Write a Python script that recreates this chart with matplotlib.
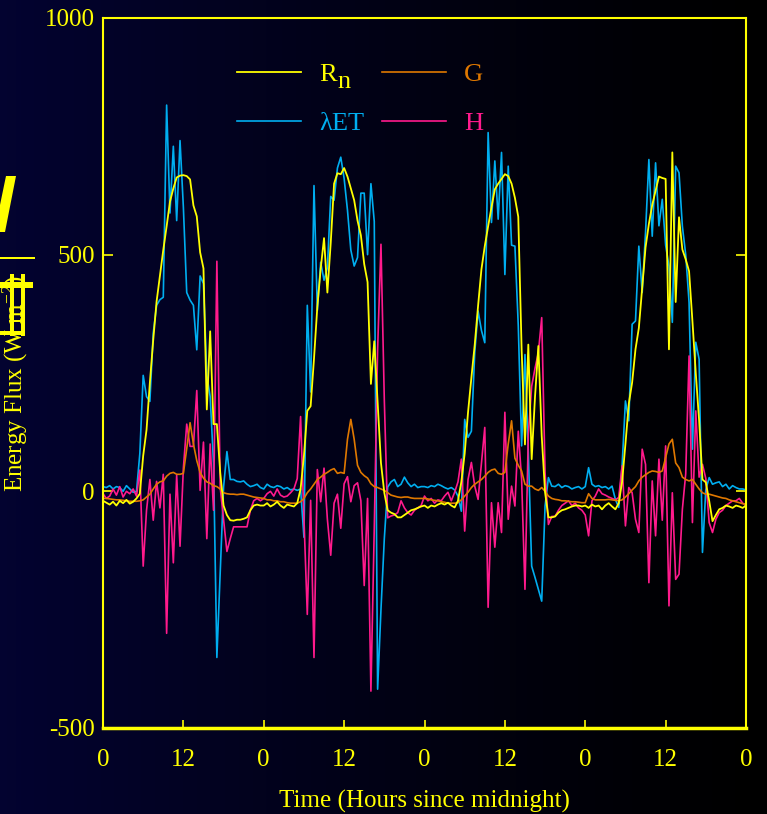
import numpy as np
import matplotlib
matplotlib.use('Agg')
import matplotlib.pyplot as plt
from matplotlib.patches import Polygon, Rectangle

plt.rcParams['font.family'] = 'Liberation Serif'
plt.rcParams['mathtext.fontset'] = 'custom'
plt.rcParams['mathtext.rm'] = 'Liberation Serif'
plt.rcParams['mathtext.it'] = 'Liberation Serif:italic'
plt.rcParams['axes.unicode_minus'] = False

# half-hourly samples over four days
hours = np.arange(0, 96.5, 0.5)

rn = [-20, -24, -28, -22, -30, -20, -25, -18, -26, -22, -15, -5,
      75, 130, 230, 320, 401, 455, 510, 560, 612, 640, 663, 667,
      668, 666, 659, 604, 581, 505, 471, 173, 338, 142, 142, 40,
      -30, -50, -61, -62, -60, -60, -58, -55, -40, -30, -28, -30,
      -30, -25, -32, -28, -22, -30, -35, -28, -30, -32, -25, 5,
      75, 170, 180, 280, 390, 470, 535, 420, 525, 650, 672, 670,
      683, 665, 640, 615, 572, 541, 480, 442, 227, 317, 190, 60,
      -3, -40, -45, -48, -55, -55, -50, -45, -40, -38, -35, -32,
      -30, -35, -30, -32, -28, -25, -28, -24, -30, -34, -20, 20,
      80, 167, 240, 310, 392, 469, 518, 560, 600, 638, 650, 660,
      670, 666, 650, 620, 580, 300, 99, 310, 68, 200, 307, 117,
      -2, -55, -55, -53, -45, -40, -38, -35, -32, -30, -30, -32,
      -30, -35, -28, -32, -30, -38, -30, -25, -32, -38, -25, 20,
      100, 185, 230, 300, 345, 430, 515, 565, 605, 635, 665, 662,
      660, 300, 716, 400, 579, 511, 490, 465, 360, 250, 150, 25,
      19, -20, -63, -50, -38, -35, -30, -32, -35, -30, -32, -35,
      -30]

let_flux = [10, 8, 12, 5, 10, 8, 0, 12, 5, -2, 0, 80,
            245, 200, 190, 334, 393, 405, 410, 816, 588, 729, 572, 741,
            600, 420, 404, 393, 299, 455, 439, 245, 200, 60, -351, -170,
            9, 84, 25, 25, 21, 20, 22, 15, 10, 12, 15, 8,
            5, 15, 10, 8, 12, 10, 5, 8, 3, 5, 2, 5,
            -97, 393, 210, 646, 382, 484, 446, 472, 623, 615, 683, 706,
            661, 594, 510, 476, 494, 630, 630, 500, 650, 570, -418, -250,
            -100, 9, 20, 25, 10, 15, 30, 18, 10, 15, 8, 10,
            10, 8, 12, 10, 15, 12, 8, 5, 8, 3, -10, -42,
            152, 114, 127, 293, 381, 340, 314, 758, 568, 698, 575, 716,
            458, 687, 520, 518, 350, 96, 289, 82, -158, -182, -207, -232,
            -31, 29, 11, 10, 15, 8, 12, 10, 5, 8, 10, 5,
            10, 50, 15, 10, 12, 8, 10, 5, 11, -17, -34, 54,
            191, 149, 353, 360, 518, 420, 547, 701, 539, 694, 561, 617,
            520, 476, 357, 687, 673, 560, 500, 399, 89, 315, 279, -129,
            4, 29, 15, 18, 20, 10, 15, 5, 12, 8, 5, 5,
            3]

g_flux = [-15, -15, -16, -17, -18, -18, -19, -20, -21, -21, -21, -20,
          -18, -12, -6, 5, 15, 20, 22, 32, 38, 40, 36, 36,
          38, 90, 145, 100, 65, 40, 28, 20, 17, 12, 10, 5,
          -3, -5, -6, -6, -7, -6, -6, -8, -10, -12, -13, -14,
          -15, -18, -18, -20, -20, -22, -22, -24, -25, -25, -25, -22,
          -15, -3, 5, 15, 25, 30, 36, 40, 45, 48, 38, 40,
          38, 110, 152, 110, 55, 40, 33, 28, 16, 10, 8, 5,
          2, -3, -8, -10, -12, -13, -12, -12, -14, -15, -15, -15,
          -15, -16, -18, -19, -20, -22, -23, -25, -25, -25, -24, -18,
          -10, -2, 8, 15, 20, 25, 32, 40, 45, 47, 38, 36,
          40, 100, 149, 70, 55, 43, 15, 11, 11, 5, 2, 8,
          0, -10, -15, -17, -18, -20, -20, -21, -22, -22, -23, -24,
          -24, -5, -15, -18, -18, -18, -18, -17, -18, -19, -20, -18,
          -12, -5, 3, 10, 22, 30, 35, 40, 43, 42, 40, 43,
          71, 100, 110, 60, 50, 30, 25, 22, 25, 15, 5, -3,
          -6, -6, -8, -10, -12, -14, -15, -18, -20, -22, -24, -26,
          -27]

h_flux = [-5, -15, -10, 5, -8, 10, -12, 0, -5, 5, -10, 45,
          -158, -40, 25, -61, 21, -35, 36, -300, -6, -151, 34, -116,
          49, 142, 95, 95, 213, 2, 104, -100, 100, -40, 486, 8,
          -60, -127, -100, -75, -75, -75, -75, -75, -40, -20, -15, -20,
          -15, -5, 0, -10, 5, -8, -12, -10, -3, 5, 27, 158,
          -56, -260, -19, -351, 46, -22, 49, -59, -135, -25, -6, -78,
          16, 31, -22, 12, 18, -20, -199, -15, -422, -78, 300, 522,
          193, -56, -52, -50, -45, -20, -35, -45, -50, -40, -35, -30,
          -10, -20, -15, -25, -18, -20, -10, -2, -20, -2, 20, 68,
          -84, 25, 61, 11, -17, 60, 135, -245, -24, -118, -24, -87,
          167, -59, 11, -31, 127, 25, -207, 120, 222, 260, 293, 367,
          40, -70, -53, -53, -40, -30, -25, -20, -30, -25, -35, -40,
          -50, -94, -20, -10, 5, -5, -8, -12, -15, -18, -13, 54,
          -73, 8, -3, -59, -87, 89, 57, -193, 22, -94, 68, -61,
          96, -242, -3, -186, -175, -38, 37, 286, -66, 170, 30, 57,
          27, -66, -87, -59, -45, -40, -30, -25, -20, -20, -15, -25,
          -30]

tick_hours = [0, 12, 24, 36, 48, 60, 72, 84, 96]
tick_labels = ['0', '12', '0', '12', '0', '12', '0', '12', '0']

YEL = '#ffff00'
BLUE = '#00aef0'
ORANGE = '#e07800'
PINK = '#ff1a8c'

W, H = 767, 814
fig = plt.figure(figsize=(W / 100, H / 100), dpi=100)
fig.patch.set_facecolor('black')

# navy-to-black background
bg = fig.add_axes([0, 0, 1, 1], zorder=-10)
grad = np.linspace(0, 1, 256)[None, :]
img = np.zeros((1, 256, 3))
img[..., 0] = 0.012 * (1 - grad)
img[..., 1] = 0.012 * (1 - grad)
img[..., 2] = 0.19 * (1 - grad) ** 1.2
bg.imshow(img, aspect='auto', extent=[0, 1, 0, 1])
bg.set_axis_off()

ax = fig.add_axes([103 / W, 1 - 728 / H, 643 / W, 710 / H])
ax.set_facecolor('none')

ax.plot(hours, let_flux, color=BLUE, lw=1.2, label='λET')
ax.plot(hours, h_flux, color=PINK, lw=1.2, label='H')
ax.plot(hours, g_flux, color=ORANGE, lw=1.2, label='G')
ax.plot(hours, rn, color=YEL, lw=1.3, label='R')

ax.set_xlim(0, 96)
ax.set_ylim(-500, 1000)
ax.set_xticks(tick_hours)
ax.set_xticklabels(tick_labels)
ax.set_yticks([-500, 0, 500, 1000])

for side in ['left', 'right', 'top']:
    ax.spines[side].set_color(YEL)
    ax.spines[side].set_linewidth(1.5)
ax.spines['bottom'].set_color(YEL)
ax.spines['bottom'].set_linewidth(2.5)

ax.tick_params(axis='x', direction='in', length=6, width=1.2, colors=YEL,
               labelsize=18, pad=15)
ax.tick_params(axis='y', direction='in', length=7, width=1.2, colors=YEL,
               labelsize=18, pad=6, right=True)

ax.set_xlabel('Time (Hours since midnight)', color=YEL, fontsize=18, labelpad=14)
ax.set_ylabel('Energy Flux (W m$^{-2}$)', color=YEL, fontsize=18)
ax.yaxis.set_label_coords(-0.113, 0.485)

handles, labels = ax.get_legend_handles_labels()
order = [3, 0, 2, 1]
leg = ax.legend([handles[i] for i in order], [labels[i] for i in order],
                ncol=2, loc='upper left', bbox_to_anchor=(0.208, 0.937),
                frameon=False, fontsize=19, handlelength=2.45,
                handletextpad=0.68, columnspacing=0.65, labelspacing=0.95,
                borderpad=0, borderaxespad=0, labelcolor='linecolor')


def px(x, y):
    return (x / W, 1 - y / H)


# large lowered subscript of R_n, as in the original legend
fig.text(*px(337, 88), 'n', color=YEL, fontsize=19, va='baseline')

# clipped yellow glyph fragments at the left edge
frags = [
    Polygon([px(6, 176), px(16, 176), px(5, 232), px(0, 232), px(0, 205)]),
    Rectangle(px(0, 259), 35 / W, 2 / H),
    Rectangle(px(0, 288), 33 / W, 6 / H),
    Rectangle(px(10, 336), 4 / W, 62 / H),
    Rectangle(px(21, 336), 4 / W, 62 / H),
    Rectangle(px(0, 335), 25 / W, 4 / H),
]
for p in frags:
    p.set_transform(fig.transFigure)
    p.set_facecolor(YEL)
    p.set_edgecolor('none')
    fig.patches.append(p)

fig.savefig('out.png', dpi=100, facecolor=fig.get_facecolor())
